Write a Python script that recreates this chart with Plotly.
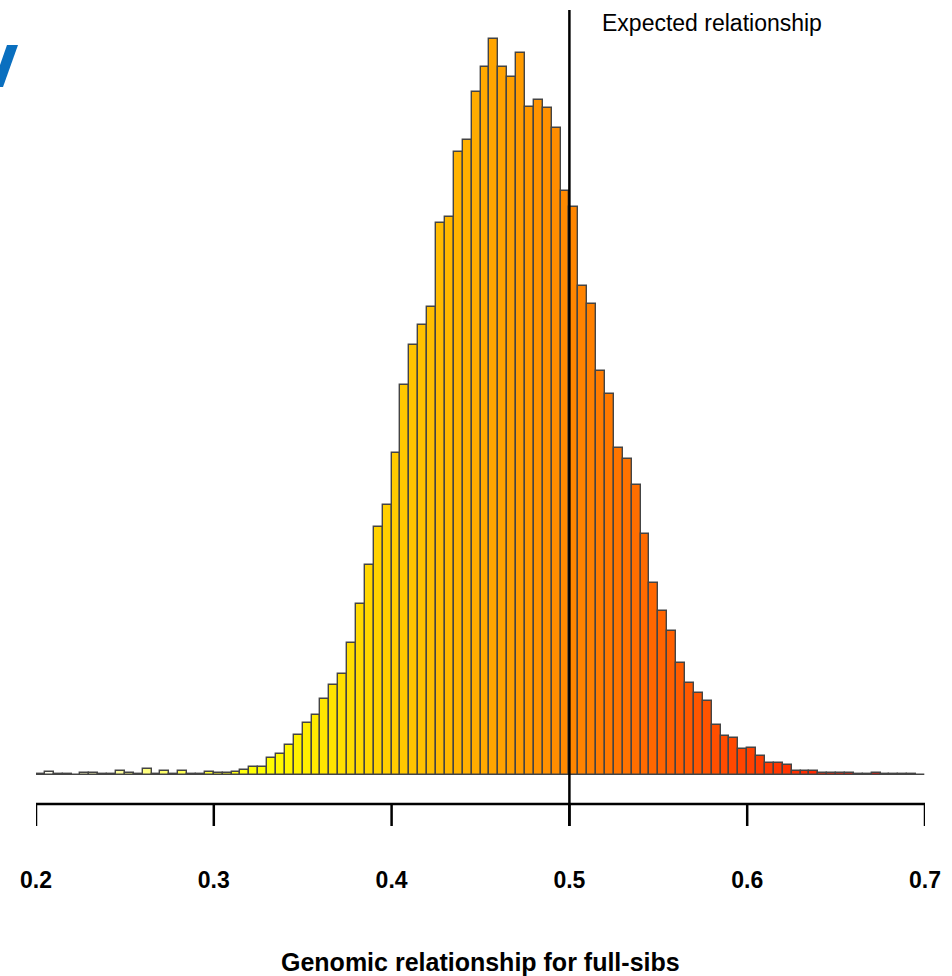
import colorsys
import plotly.graph_objects as go

# ---- data ----
bin_start = 0.2
bin_width = 0.005
counts = [
    1, 3, 1, 1, 0.5, 2, 2, 1, 1, 4,
    2, 1, 6, 1, 4, 1, 4, 1, 1, 3,
    2, 2, 3, 5, 8, 8, 17, 21, 30, 40,
    52, 60, 76, 90, 101, 132, 171, 210, 248, 270,
    322, 390, 430, 450, 468, 552, 558, 623, 635, 683,
    708, 736, 708, 698, 722, 668, 675, 667, 647, 584,
    568, 489, 471, 404, 381, 327, 316, 290, 241, 192,
    164, 144, 112, 92, 82, 74, 50, 39, 37, 26,
    27, 19, 12, 12, 10, 4, 4, 4, 2, 2,
    2, 2, 1, 1, 2, 1, 1, 1, 1, 0.5,
]
tick_vals = [0.2, 0.3, 0.4, 0.5, 0.6, 0.7]
tick_text = ["0.2", "0.3", "0.4", "0.5", "0.6", "0.7"]
expected = 0.5
x_title = "Genomic relationship for full-sibs"
line_label = "Expected relationship"

n = len(counts)
centers = [bin_start + bin_width * (k + 0.5) for k in range(n)]


def heat_colors(m):
    # R's heat.colors(m)
    j = m // 4
    i = m - j
    cols = []
    for k in range(i):
        h = (1 / 6) * k / (i - 1) if i > 1 else 0
        cols.append(colorsys.hsv_to_rgb(h, 1, 1))
    for k in range(j):
        if j > 1:
            s = (1 - 1 / (2 * j)) + ((1 / (2 * j)) - (1 - 1 / (2 * j))) * k / (j - 1)
        else:
            s = 0.5
        cols.append(colorsys.hsv_to_rgb(1 / 6, s, 1))
    return ["rgb(%d,%d,%d)" % (round(r * 255), round(g * 255), round(b * 255)) for r, g, b in cols]


colors = list(reversed(heat_colors(n)))

fig = go.Figure()
fig.add_trace(go.Bar(
    x=centers, y=counts, width=bin_width,
    marker=dict(color=colors, line=dict(color="#444444", width=1.4)),
    showlegend=False, hoverinfo="x+y",
))

W, H = 952, 976
L, R, T, B = 36, 27, 10, 150
ymin, ymax = -51, 765
axis_y = -29

shapes = [
    dict(type="line", xref="x", yref="y", x0=tick_vals[0], x1=tick_vals[-1], y0=axis_y, y1=axis_y,
         line=dict(color="black", width=2.5)),
    dict(type="line", xref="x", yref="paper", x0=expected, x1=expected, y0=0, y1=1,
         line=dict(color="black", width=2.5)),
]
for tv in tick_vals:
    shapes.append(dict(type="line", xref="x", yref="y", x0=tv, x1=tv, y0=axis_y, y1=ymin,
                       line=dict(color="black", width=2.5)))

# blue fragment at top-left corner (pixel coordinates converted to paper)
pw, ph = W - L - R, H - T - B
def px(xp):
    return (xp - L) / pw
def py(yp):
    return (H - B - yp) / ph
pts = [(7, 45), (18, 45), (3, 87), (0, 87), (0, 65)]
path = "M " + " L ".join("%f,%f" % (px(a), py(b)) for a, b in pts) + " Z"
shapes.append(dict(type="path", xref="paper", yref="paper", path=path,
                   fillcolor="#0A6FBF", line=dict(width=0)))

fig.update_layout(
    width=W, height=H,
    margin=dict(l=L, r=R, t=T, b=B, pad=0),
    paper_bgcolor="white", plot_bgcolor="white",
    bargap=0,
    font=dict(family="Liberation Sans, Arial, sans-serif", color="black"),
    xaxis=dict(range=[0.2, 0.7], tickvals=tick_vals, ticktext=tick_text,
               showgrid=False, zeroline=False, showline=False, ticks="",
               tickfont=dict(size=23, family="Liberation Sans, Arial, sans-serif", weight="bold"),
               ticklabelstandoff=38),
    yaxis=dict(range=[ymin, ymax], visible=False, showgrid=False, zeroline=False),
    shapes=shapes,
    annotations=[
        dict(text=line_label, xref="paper", yref="paper",
             x=px(600), y=py(23), xanchor="left", yanchor="middle", showarrow=False,
             font=dict(size=23, color="black")),
        dict(text="<b>" + x_title + "</b>", xref="paper", yref="paper",
             x=0.5, y=py(962), xanchor="center", yanchor="middle", showarrow=False,
             font=dict(size=25, color="black")),
    ],
)

fig.write_html("out.html", config={"displayModeBar": False},
               post_script="document.body.style.margin='0px';document.body.style.overflow='hidden';")
